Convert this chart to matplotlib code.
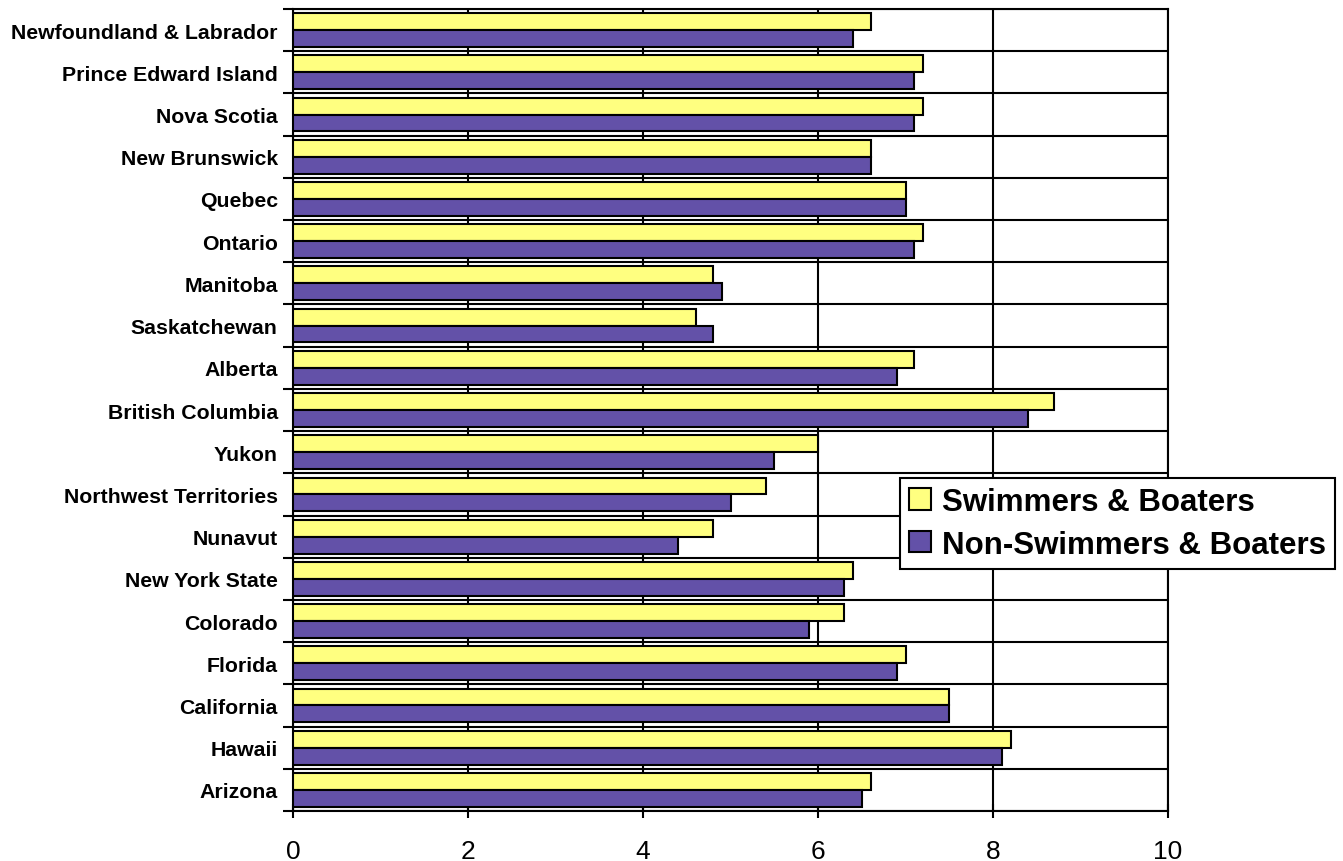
import matplotlib.pyplot as plt
import numpy as np

plt.rcParams['font.family'] = ['Liberation Sans', 'DejaVu Sans']

regions = ["Newfoundland & Labrador", "Prince Edward Island", "Nova Scotia",
           "New Brunswick", "Quebec", "Ontario", "Manitoba", "Saskatchewan",
           "Alberta", "British Columbia", "Yukon", "Northwest Territories",
           "Nunavut", "New York State", "Colorado", "Florida", "California",
           "Hawaii", "Arizona"]
swimmers = [6.6, 7.2, 7.2, 6.6, 7.0, 7.2, 4.8, 4.6, 7.1, 8.7,
            6.0, 5.4, 4.8, 6.4, 6.3, 7.0, 7.5, 8.2, 6.6]
non_swimmers = [6.4, 7.1, 7.1, 6.6, 7.0, 7.1, 4.9, 4.8, 6.9, 8.4,
                5.5, 5.0, 4.4, 6.3, 5.9, 6.9, 7.5, 8.1, 6.5]
x_ticks = [0, 2, 4, 6, 8, 10]

fig = plt.figure(figsize=(13.43, 8.62), dpi=100)
ax = fig.add_axes([0.2182, 0.058, 0.6515, 0.9304])

y = np.arange(len(regions))
h = 0.4
ax.barh(y - h / 2, swimmers, height=h, color='#FFFF80', edgecolor='black',
        linewidth=1.5, label='Swimmers & Boaters', zorder=3)
ax.barh(y + h / 2, non_swimmers, height=h, color='#6351A8', edgecolor='black',
        linewidth=1.5, label='Non-Swimmers & Boaters', zorder=3)

ax.set_ylim(len(regions) - 0.5, -0.5)
ax.set_xlim(0, 10)

ax.set_yticks(y, regions, fontsize=15.3, fontweight='bold')
ax.set_yticks(np.arange(len(regions) + 1) - 0.5, minor=True)
ax.tick_params(axis='y', which='major', length=0, pad=11)
ax.tick_params(axis='y', which='minor', length=7, width=1.5, direction='out')

ax.set_xticks(x_ticks, [str(t) for t in x_ticks], fontsize=19)
ax.tick_params(axis='x', which='major', length=10, width=1.5, direction='inout', pad=15)

ax.grid(axis='x', which='major', color='black', linewidth=1.5, zorder=1)
ax.grid(axis='y', which='minor', color='black', linewidth=1.5, zorder=1)
ax.set_axisbelow(True)

for s in ax.spines.values():
    s.set_linewidth(1.5)

leg = fig.legend(loc='lower left', bbox_to_anchor=(0.6701, 0.3387),
                 bbox_transform=fig.transFigure,
                 prop={'weight': 'bold', 'size': 22.5}, frameon=True,
                 fancybox=False, edgecolor='black', framealpha=1,
                 handlelength=0.68, handleheight=0.68, handletextpad=0.35,
                 borderpad=0.3, labelspacing=0.4, borderaxespad=0)
leg.get_frame().set_linewidth(1.5)

fig.savefig('out.png', dpi=100)
